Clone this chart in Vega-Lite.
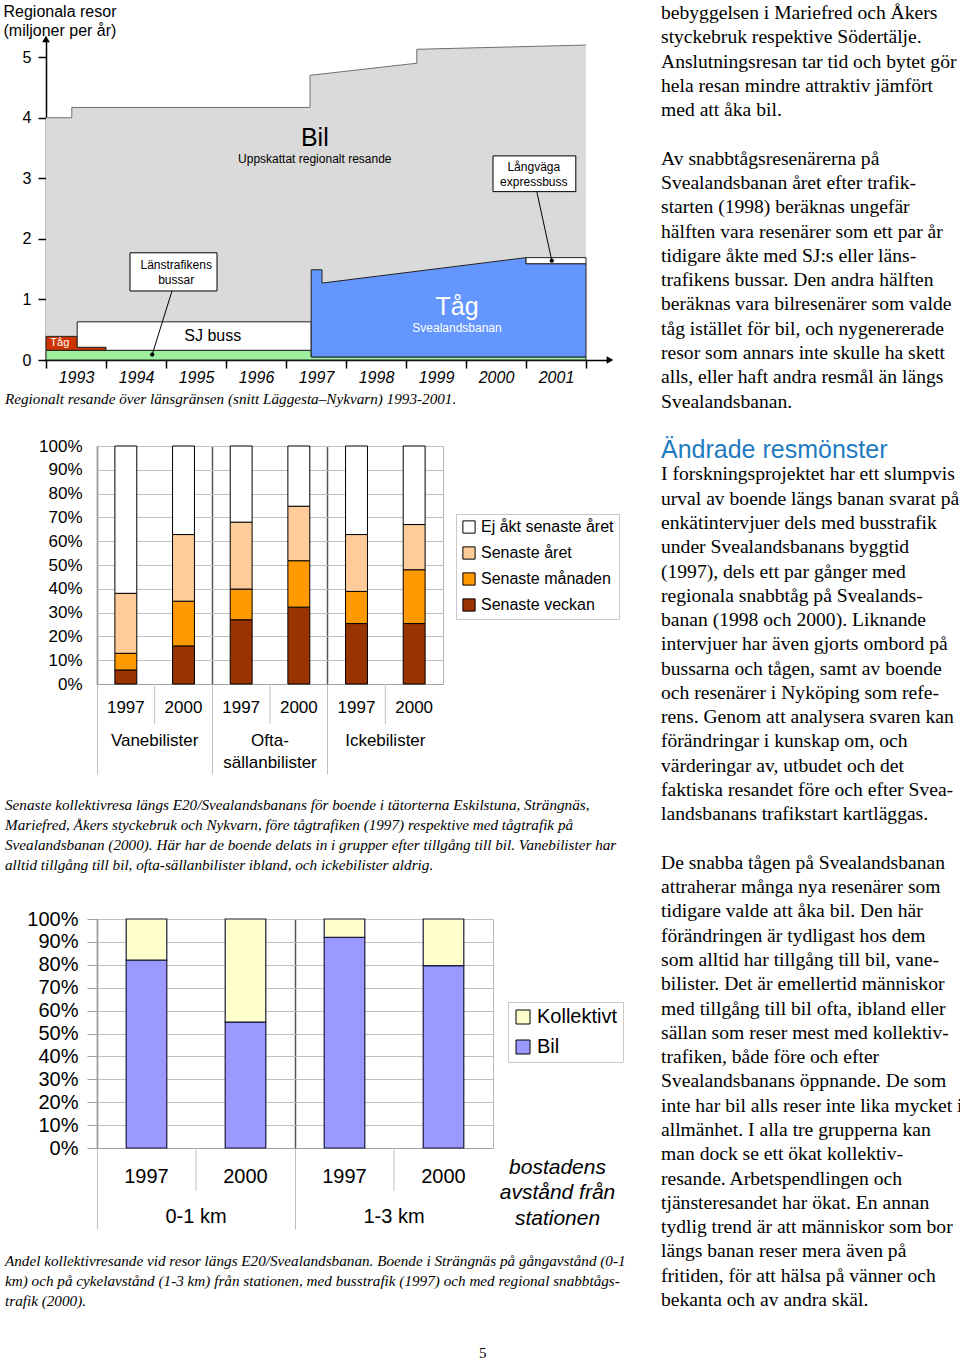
{
  "$schema": "https://vega.github.io/schema/vega-lite/v6.json",
  "background": "white",
  "padding": {"left": 3, "top": 2, "right": 0, "bottom": 0},
  "config": {
    "font": "Liberation Sans",
    "view": {"stroke": null},
    "axis": {"labelColor": "black", "titleColor": "black", "labelFont": "Liberation Sans", "titleFont": "Liberation Sans", "titleFontWeight": "normal"},
    "legend": {"labelColor": "black", "labelFont": "Liberation Sans"},
    "title": {"color": "black", "fontWeight": "normal"}
  },
  "title": {"text": "5", "orient": "bottom", "anchor": "middle", "font": "Liberation Serif", "fontSize": 15, "offset": 36},
  "spacing": 0,
  "resolve": {"scale": {"color": "independent", "shape": "independent", "xOffset": "independent"}},
  "hconcat": [
    {
      "spacing": 28,
      "resolve": {"scale": {"color": "independent", "shape": "independent", "xOffset": "independent"}},
      "vconcat": [
        {
          "width": 513,
          "height": 321,
          "title": {"text": "Regionalt resande över länsgränsen (snitt Läggesta–Nykvarn) 1993-2001.", "orient": "bottom", "anchor": "start", "frame": "group", "dx": -92, "offset": 7, "font": "Liberation Serif", "fontStyle": "italic", "fontSize": 15.2},
          "layer": [
            {
              "data": {"values": [
                {"x": 1993, "y": 4.0}, {"x": 1993.43, "y": 4.0}, {"x": 1993.43, "y": 4.17},
                {"x": 1997.4, "y": 4.17}, {"x": 1997.4, "y": 4.7}, {"x": 1999.18, "y": 4.9},
                {"x": 1999.18, "y": 5.13}, {"x": 2002, "y": 5.2}
              ]},
              "mark": {"type": "area", "color": "#dadada", "opacity": 1, "line": {"color": "#707070", "strokeWidth": 1}},
              "encoding": {
                "x": {"field": "x", "type": "quantitative", "scale": {"domain": [1993, 2002.4], "range": [-51, 513], "nice": false, "zero": false},
                  "axis": {"title": null, "values": [1993, 1994, 1995, 1996, 1997, 1998, 1999, 2000, 2001, 2002], "format": "d", "labelExpr": "datum.value >= 2002 ? '' : datum.label", "labelOffset": 30, "labelFontStyle": "italic", "labelFontSize": 16, "tickSize": 8, "tickColor": "black", "tickWidth": 1.5, "domainColor": "black", "domainWidth": 1.5, "labelPadding": 1, "grid": false, "labelFlush": false, "labelOverlap": false}},
                "y": {"field": "y", "type": "quantitative", "scale": {"domain": [0, 5.3], "nice": false, "zero": false},
                  "axis": {"offset": 51, "title": ["Regionala resor", "(miljoner per år)"], "titleAngle": 0, "titleAlign": "left", "titleBaseline": "top", "titleX": -43, "titleY": -36, "titleFontSize": 16, "titleLineHeight": 19, "values": [0, 0.5, 1, 1.5, 2, 2.5, 3, 3.5, 4, 4.5, 5], "labelExpr": "datum.value % 1 === 0 ? format(datum.value, 'd') : ''", "labelFontSize": 16, "tickSize": 8, "tickColor": "black", "tickWidth": 1.5, "domainColor": "black", "domainWidth": 1.5, "labelPadding": 7, "grid": false, "labelFlush": false, "labelOverlap": false}},
                "y2": {"datum": 0}
              }
            },
            {
              "data": {"values": [
                {"s": "Länstrafik", "x": 1993, "y0": 0, "y": 0.16},
                {"s": "Länstrafik", "x": 1997.42, "y0": 0, "y": 0.16},
                {"s": "Länstrafik", "x": 1997.42, "y0": 0, "y": 0.05},
                {"s": "Länstrafik", "x": 2002, "y0": 0, "y": 0.05},
                {"s": "Tåg", "x": 1993, "y0": 0.16, "y": 0.39},
                {"s": "Tåg", "x": 1993.52, "y0": 0.16, "y": 0.39},
                {"s": "Tåg", "x": 1993.52, "y0": 0.16, "y": 0.21},
                {"s": "Tåg", "x": 1994, "y0": 0.16, "y": 0.21},
                {"s": "SJ buss", "x": 1993.52, "y0": 0.21, "y": 0.63},
                {"s": "SJ buss", "x": 1994, "y0": 0.21, "y": 0.63},
                {"s": "SJ buss", "x": 1994, "y0": 0.16, "y": 0.63},
                {"s": "SJ buss", "x": 1997.42, "y0": 0.16, "y": 0.63},
                {"s": "Svealandsbanan", "x": 1997.42, "y0": 0.05, "y": 1.49},
                {"s": "Svealandsbanan", "x": 1997.6, "y0": 0.05, "y": 1.49},
                {"s": "Svealandsbanan", "x": 1997.6, "y0": 0.05, "y": 1.27},
                {"s": "Svealandsbanan", "x": 2001, "y0": 0.05, "y": 1.69},
                {"s": "Svealandsbanan", "x": 2001, "y0": 0.05, "y": 1.59},
                {"s": "Svealandsbanan", "x": 2002, "y0": 0.05, "y": 1.59},
                {"s": "Långväga", "x": 2001, "y0": 1.59, "y": 1.69},
                {"s": "Långväga", "x": 2002, "y0": 1.59, "y": 1.69}
              ]},
              "mark": {"type": "area", "stroke": "#222222", "strokeWidth": 1, "opacity": 1},
              "encoding": {
                "x": {"field": "x", "type": "quantitative"},
                "y": {"field": "y", "type": "quantitative"},
                "y2": {"field": "y0"},
                "color": {"field": "s", "type": "nominal", "scale": {"domain": ["Länstrafik", "Tåg", "SJ buss", "Svealandsbanan", "Långväga"], "range": ["#9ef09e", "#cc3300", "#ffffff", "#6496ff", "#ffffff"]}, "legend": null}
              }
            },
            {
              "data": {"values": [
                {"x": 1994.4, "xe": 1995.85, "y": 1.14, "ye": 1.77},
                {"x": 2000.45, "xe": 2001.83, "y": 2.78, "ye": 3.37}
              ]},
              "mark": {"type": "rect", "fill": "white", "stroke": "black", "strokeWidth": 1},
              "encoding": {
                "x": {"field": "x", "type": "quantitative"},
                "x2": {"field": "xe"},
                "y": {"field": "y", "type": "quantitative"},
                "y2": {"field": "ye"}
              }
            },
            {
              "data": {"values": [
                {"x": 1995.1, "y": 1.14, "xe": 1994.77, "ye": 0.09},
                {"x": 2001.18, "y": 2.78, "xe": 2001.43, "ye": 1.64}
              ]},
              "mark": {"type": "rule", "color": "black", "strokeWidth": 1},
              "encoding": {
                "x": {"field": "x", "type": "quantitative"},
                "x2": {"field": "xe"},
                "y": {"field": "y", "type": "quantitative"},
                "y2": {"field": "ye"}
              }
            },
            {
              "data": {"values": [
                {"x": 1994.77, "y": 0.09},
                {"x": 2001.43, "y": 1.64}
              ]},
              "mark": {"type": "point", "filled": true, "color": "black", "size": 18, "opacity": 1},
              "encoding": {
                "x": {"field": "x", "type": "quantitative"},
                "y": {"field": "y", "type": "quantitative"}
              }
            },
            {
              "data": {"values": [
                {"x": 1993, "y": 5.3, "d": "upp"},
                {"x": 2002.4, "y": 0, "d": "höger"}
              ]},
              "mark": {"type": "point", "filled": true, "color": "black", "size": 60, "opacity": 1},
              "encoding": {
                "x": {"field": "x", "type": "quantitative"},
                "y": {"field": "y", "type": "quantitative"},
                "shape": {"field": "d", "type": "nominal", "scale": {"domain": ["upp", "höger"], "range": ["triangle-up", "triangle-right"]}, "legend": null}
              }
            },
            {
              "data": {"values": [
                {"x": 1997.48, "y": 3.32, "t": "Uppskattat regionalt resande"},
                {"x": 1995.17, "y": 1.57, "t": "Länstrafikens"},
                {"x": 1995.17, "y": 1.32, "t": "bussar"},
                {"x": 2001.13, "y": 3.19, "t": "Långväga"},
                {"x": 2001.13, "y": 2.94, "t": "expressbuss"}
              ]},
              "mark": {"type": "text", "fontSize": 12, "color": "black", "align": "center", "baseline": "middle"},
              "encoding": {
                "x": {"field": "x", "type": "quantitative"},
                "y": {"field": "y", "type": "quantitative"},
                "text": {"field": "t"}
              }
            },
            {
              "data": {"values": [{"x": 1997.48, "y": 3.67, "t": "Bil"}]},
              "mark": {"type": "text", "fontSize": 25, "color": "black", "align": "center", "baseline": "middle"},
              "encoding": {
                "x": {"field": "x", "type": "quantitative"},
                "y": {"field": "y", "type": "quantitative"},
                "text": {"field": "t"}
              }
            },
            {
              "data": {"values": [{"x": 1999.85, "y": 0.88, "t": "Tåg"}]},
              "mark": {"type": "text", "fontSize": 25, "color": "white", "align": "center", "baseline": "middle"},
              "encoding": {
                "x": {"field": "x", "type": "quantitative"},
                "y": {"field": "y", "type": "quantitative"},
                "text": {"field": "t"}
              }
            },
            {
              "data": {"values": [{"x": 1999.85, "y": 0.53, "t": "Svealandsbanan"}]},
              "mark": {"type": "text", "fontSize": 12, "color": "white", "align": "center", "baseline": "middle"},
              "encoding": {
                "x": {"field": "x", "type": "quantitative"},
                "y": {"field": "y", "type": "quantitative"},
                "text": {"field": "t"}
              }
            },
            {
              "data": {"values": [{"x": 1995.78, "y": 0.4, "t": "SJ buss"}]},
              "mark": {"type": "text", "fontSize": 16, "color": "black", "align": "center", "baseline": "middle"},
              "encoding": {
                "x": {"field": "x", "type": "quantitative"},
                "y": {"field": "y", "type": "quantitative"},
                "text": {"field": "t"}
              }
            },
            {
              "data": {"values": [{"x": 1993.23, "y": 0.28, "t": "Tåg"}]},
              "mark": {"type": "text", "fontSize": 11, "color": "white", "align": "center", "baseline": "middle"},
              "encoding": {
                "x": {"field": "x", "type": "quantitative"},
                "y": {"field": "y", "type": "quantitative"},
                "text": {"field": "t"}
              }
            }
          ]
        },
        {
          "spacing": 34,
          "resolve": {"scale": {"color": "independent", "shape": "independent", "xOffset": "independent"}},
          "vconcat": [
            {
              "width": 346,
              "height": 238,
              "view": {"stroke": "#b4b4b4"},
              "title": {"text": [
                "Senaste kollektivresa längs E20/Svealandsbanans för boende i tätorterna Eskilstuna, Strängnäs,",
                "Mariefred, Åkers styckebruk och Nykvarn, före tågtrafiken (1997) respektive med tågtrafik på",
                "Svealandsbanan (2000). Här har de boende delats in i grupper efter tillgång till bil. Vanebilister har",
                "alltid tillgång till bil, ofta-sällanbilister ibland, och ickebilister aldrig."
              ], "orient": "bottom", "anchor": "start", "frame": "group", "dx": -92, "offset": 23, "font": "Liberation Serif", "fontStyle": "italic", "fontSize": 15.2, "lineHeight": 20},
              "layer": [
                {
                  "data": {"values": [
                    {"grupp": "Vanebilister", "år": "1997", "typ": "Senaste veckan", "lvl": 1, "andel": 5.9},
                    {"grupp": "Vanebilister", "år": "1997", "typ": "Senaste månaden", "lvl": 2, "andel": 7.0},
                    {"grupp": "Vanebilister", "år": "1997", "typ": "Senaste året", "lvl": 3, "andel": 25.2},
                    {"grupp": "Vanebilister", "år": "1997", "typ": "Ej åkt senaste året", "lvl": 4, "andel": 61.9},
                    {"grupp": "Vanebilister", "år": "2000", "typ": "Senaste veckan", "lvl": 1, "andel": 16.0},
                    {"grupp": "Vanebilister", "år": "2000", "typ": "Senaste månaden", "lvl": 2, "andel": 18.8},
                    {"grupp": "Vanebilister", "år": "2000", "typ": "Senaste året", "lvl": 3, "andel": 28.0},
                    {"grupp": "Vanebilister", "år": "2000", "typ": "Ej åkt senaste året", "lvl": 4, "andel": 37.2},
                    {"grupp": "Ofta-sällanbilister", "år": "1997", "typ": "Senaste veckan", "lvl": 1, "andel": 27.0},
                    {"grupp": "Ofta-sällanbilister", "år": "1997", "typ": "Senaste månaden", "lvl": 2, "andel": 12.9},
                    {"grupp": "Ofta-sällanbilister", "år": "1997", "typ": "Senaste året", "lvl": 3, "andel": 28.1},
                    {"grupp": "Ofta-sällanbilister", "år": "1997", "typ": "Ej åkt senaste året", "lvl": 4, "andel": 32.0},
                    {"grupp": "Ofta-sällanbilister", "år": "2000", "typ": "Senaste veckan", "lvl": 1, "andel": 32.3},
                    {"grupp": "Ofta-sällanbilister", "år": "2000", "typ": "Senaste månaden", "lvl": 2, "andel": 19.5},
                    {"grupp": "Ofta-sällanbilister", "år": "2000", "typ": "Senaste året", "lvl": 3, "andel": 22.9},
                    {"grupp": "Ofta-sällanbilister", "år": "2000", "typ": "Ej åkt senaste året", "lvl": 4, "andel": 25.3},
                    {"grupp": "Ickebilister", "år": "1997", "typ": "Senaste veckan", "lvl": 1, "andel": 25.4},
                    {"grupp": "Ickebilister", "år": "1997", "typ": "Senaste månaden", "lvl": 2, "andel": 13.5},
                    {"grupp": "Ickebilister", "år": "1997", "typ": "Senaste året", "lvl": 3, "andel": 23.9},
                    {"grupp": "Ickebilister", "år": "1997", "typ": "Ej åkt senaste året", "lvl": 4, "andel": 37.2},
                    {"grupp": "Ickebilister", "år": "2000", "typ": "Senaste veckan", "lvl": 1, "andel": 25.4},
                    {"grupp": "Ickebilister", "år": "2000", "typ": "Senaste månaden", "lvl": 2, "andel": 22.6},
                    {"grupp": "Ickebilister", "år": "2000", "typ": "Senaste året", "lvl": 3, "andel": 19.0},
                    {"grupp": "Ickebilister", "år": "2000", "typ": "Ej åkt senaste året", "lvl": 4, "andel": 33.0}
                  ]},
                  "mark": {"type": "bar", "stroke": "black", "strokeWidth": 1},
                  "encoding": {
                    "x": {"field": "grupp", "type": "nominal", "scale": {"domain": ["Vanebilister", "Ofta-sällanbilister", "Ickebilister"], "paddingInner": 0, "paddingOuter": 0},
                      "axis": {"title": null, "labels": false, "bandPosition": 0, "tickSize": 90, "tickColor": "#c0c0c0", "grid": true, "gridColor": "#555555", "gridWidth": 1.5, "domainColor": "#a0a0a0"}},
                    "xOffset": {"field": "år", "type": "nominal", "scale": {"domain": ["1997", "2000"], "paddingInner": 0.62, "paddingOuter": 0.31}},
                    "y": {"field": "andel", "type": "quantitative", "stack": "zero", "scale": {"domain": [0, 100], "nice": false},
                      "axis": {"title": null, "values": [0, 10, 20, 30, 40, 50, 60, 70, 80, 90, 100], "labelExpr": "datum.value + '%'", "labelFontSize": 17, "ticks": false, "labelPadding": 15, "grid": true, "gridColor": "#c0c0c0", "domainColor": "#a0a0a0", "labelOverlap": false, "labelFlush": false}},
                    "color": {"field": "typ", "type": "nominal",
                      "scale": {"domain": ["Ej åkt senaste året", "Senaste året", "Senaste månaden", "Senaste veckan"], "range": ["#ffffff", "#ffcc99", "#ff9900", "#993300"]},
                      "legend": {"orient": "none", "legendX": 359, "legendY": 68, "direction": "vertical", "title": null, "symbolType": "square", "symbolSize": 150, "symbolStrokeColor": "black", "symbolStrokeWidth": 1, "labelFontSize": 16, "labelOffset": 4, "rowPadding": 8, "padding": 5, "strokeColor": "#c8c8c8", "labelLimit": 300}},
                    "order": {"field": "lvl", "type": "quantitative"}
                  }
                },
                {
                  "data": {"values": [{"grupp": "Vanebilister"}, {"grupp": "Ofta-sällanbilister"}, {"grupp": "Ickebilister"}]},
                  "mark": {"type": "rule", "color": "#c0c0c0", "strokeWidth": 1},
                  "encoding": {
                    "x": {"field": "grupp", "type": "nominal"},
                    "y": {"datum": 0, "axis": {"title": null, "values": [0, 10, 20, 30, 40, 50, 60, 70, 80, 90, 100], "labelExpr": "datum.value + '%'", "labelFontSize": 17, "ticks": false, "labelPadding": 15, "grid": true, "gridColor": "#c0c0c0", "domainColor": "#a0a0a0", "labelOverlap": false, "labelFlush": false}},
                    "y2": {"datum": -16.8}
                  }
                },
                {
                  "data": {"values": [
                    {"grupp": "Vanebilister", "år": "1997"}, {"grupp": "Vanebilister", "år": "2000"},
                    {"grupp": "Ofta-sällanbilister", "år": "1997"}, {"grupp": "Ofta-sällanbilister", "år": "2000"},
                    {"grupp": "Ickebilister", "år": "1997"}, {"grupp": "Ickebilister", "år": "2000"}
                  ]},
                  "mark": {"type": "text", "fontSize": 17, "color": "black", "align": "center", "baseline": "middle"},
                  "encoding": {
                    "x": {"field": "grupp", "type": "nominal"},
                    "xOffset": {"field": "år", "type": "nominal"},
                    "y": {"datum": -10.1, "axis": {"title": null, "values": [0, 10, 20, 30, 40, 50, 60, 70, 80, 90, 100], "labelExpr": "datum.value + '%'", "labelFontSize": 17, "ticks": false, "labelPadding": 15, "grid": true, "gridColor": "#c0c0c0", "domainColor": "#a0a0a0", "labelOverlap": false, "labelFlush": false}},
                    "text": {"field": "år"}
                  }
                },
                {
                  "data": {"values": [
                    {"grupp": "Vanebilister", "namn": "Vanebilister"},
                    {"grupp": "Ofta-sällanbilister", "namn": "Ofta-\nsällanbilister"},
                    {"grupp": "Ickebilister", "namn": "Ickebilister"}
                  ]},
                  "mark": {"type": "text", "fontSize": 17, "color": "black", "align": "center", "baseline": "top", "lineBreak": "\n", "lineHeight": 22},
                  "encoding": {
                    "x": {"field": "grupp", "type": "nominal"},
                    "y": {"datum": -20.6, "axis": {"title": null, "values": [0, 10, 20, 30, 40, 50, 60, 70, 80, 90, 100], "labelExpr": "datum.value + '%'", "labelFontSize": 17, "ticks": false, "labelPadding": 15, "grid": true, "gridColor": "#c0c0c0", "domainColor": "#a0a0a0", "labelOverlap": false, "labelFlush": false}},
                    "text": {"field": "namn"}
                  }
                }
              ]
            },
            {
              "width": 396,
              "height": 229,
              "view": {"stroke": "#b4b4b4"},
              "title": {"text": [
                "Andel kollektivresande vid resor längs E20/Svealandsbanan. Boende i Strängnäs på gångavstånd (0-1",
                "km) och på cykelavstånd (1-3 km) från stationen, med busstrafik (1997) och med regional snabbtågs-",
                "trafik (2000)."
              ], "orient": "bottom", "anchor": "start", "frame": "group", "dx": -92, "offset": 24, "font": "Liberation Serif", "fontStyle": "italic", "fontSize": 15.2, "lineHeight": 20},
              "layer": [
                {
                  "data": {"values": [
                    {"grupp": "0-1 km", "år": "1997", "typ": "Bil", "lvl": 1, "andel": 82},
                    {"grupp": "0-1 km", "år": "1997", "typ": "Kollektivt", "lvl": 2, "andel": 18},
                    {"grupp": "0-1 km", "år": "2000", "typ": "Bil", "lvl": 1, "andel": 55},
                    {"grupp": "0-1 km", "år": "2000", "typ": "Kollektivt", "lvl": 2, "andel": 45},
                    {"grupp": "1-3 km", "år": "1997", "typ": "Bil", "lvl": 1, "andel": 92},
                    {"grupp": "1-3 km", "år": "1997", "typ": "Kollektivt", "lvl": 2, "andel": 8},
                    {"grupp": "1-3 km", "år": "2000", "typ": "Bil", "lvl": 1, "andel": 79.6},
                    {"grupp": "1-3 km", "år": "2000", "typ": "Kollektivt", "lvl": 2, "andel": 20.4}
                  ]},
                  "mark": {"type": "bar", "stroke": "#1a1a3a", "strokeWidth": 1.2},
                  "encoding": {
                    "x": {"field": "grupp", "type": "nominal", "scale": {"domain": ["0-1 km", "1-3 km"], "paddingInner": 0, "paddingOuter": 0},
                      "axis": {"title": ["bostadens", "avstånd från", "stationen"], "titleFontStyle": "italic", "titleFontSize": 21, "titleLineHeight": 25.5, "titleX": 460, "titleY": 8, "titleAlign": "center", "titleBaseline": "top", "titleAngle": 0, "labels": false, "bandPosition": 0, "tickSize": 81, "tickColor": "#c0c0c0", "grid": true, "gridColor": "#555555", "gridWidth": 1.5, "domainColor": "#a0a0a0"}},
                    "xOffset": {"field": "år", "type": "nominal", "scale": {"domain": ["1997", "2000"], "paddingInner": 0.59, "paddingOuter": 0.295}},
                    "y": {"field": "andel", "type": "quantitative", "stack": "zero", "scale": {"domain": [0, 100], "nice": false},
                      "axis": {"title": null, "values": [0, 10, 20, 30, 40, 50, 60, 70, 80, 90, 100], "labelExpr": "datum.value + '%'", "labelFontSize": 20, "tickSize": 10, "tickColor": "#a0a0a0", "labelPadding": 9, "grid": true, "gridColor": "#c0c0c0", "domainColor": "#a0a0a0", "labelOverlap": false, "labelFlush": false}},
                    "color": {"field": "typ", "type": "nominal",
                      "scale": {"domain": ["Kollektivt", "Bil"], "range": ["#ffffcc", "#9999ff"]},
                      "legend": {"orient": "none", "legendX": 411, "legendY": 83, "direction": "vertical", "title": null, "symbolType": "square", "symbolSize": 196, "symbolStrokeColor": "black", "symbolStrokeWidth": 1, "labelFontSize": 20, "labelOffset": 4, "rowPadding": 10, "padding": 5, "strokeColor": "#c8c8c8", "labelLimit": 300}},
                    "order": {"field": "lvl", "type": "quantitative"}
                  }
                },
                {
                  "data": {"values": [{"grupp": "0-1 km"}, {"grupp": "1-3 km"}]},
                  "mark": {"type": "rule", "color": "#c0c0c0", "strokeWidth": 1},
                  "encoding": {
                    "x": {"field": "grupp", "type": "nominal"},
                    "y": {"datum": 0, "axis": {"title": null, "values": [0, 10, 20, 30, 40, 50, 60, 70, 80, 90, 100], "labelExpr": "datum.value + '%'", "labelFontSize": 20, "tickSize": 10, "tickColor": "#a0a0a0", "labelPadding": 9, "grid": true, "gridColor": "#c0c0c0", "domainColor": "#a0a0a0", "labelOverlap": false, "labelFlush": false}},
                    "y2": {"datum": -18.8}
                  }
                },
                {
                  "data": {"values": [
                    {"grupp": "0-1 km", "år": "1997"}, {"grupp": "0-1 km", "år": "2000"},
                    {"grupp": "1-3 km", "år": "1997"}, {"grupp": "1-3 km", "år": "2000"}
                  ]},
                  "mark": {"type": "text", "fontSize": 20, "color": "black", "align": "center", "baseline": "middle"},
                  "encoding": {
                    "x": {"field": "grupp", "type": "nominal"},
                    "xOffset": {"field": "år", "type": "nominal"},
                    "y": {"datum": -12.7, "axis": {"title": null, "values": [0, 10, 20, 30, 40, 50, 60, 70, 80, 90, 100], "labelExpr": "datum.value + '%'", "labelFontSize": 20, "tickSize": 10, "tickColor": "#a0a0a0", "labelPadding": 9, "grid": true, "gridColor": "#c0c0c0", "domainColor": "#a0a0a0", "labelOverlap": false, "labelFlush": false}},
                    "text": {"field": "år"}
                  }
                },
                {
                  "data": {"values": [{"grupp": "0-1 km"}, {"grupp": "1-3 km"}]},
                  "mark": {"type": "text", "fontSize": 20, "color": "black", "align": "center", "baseline": "middle"},
                  "encoding": {
                    "x": {"field": "grupp", "type": "nominal"},
                    "y": {"datum": -30.1, "axis": {"title": null, "values": [0, 10, 20, 30, 40, 50, 60, 70, 80, 90, 100], "labelExpr": "datum.value + '%'", "labelFontSize": 20, "tickSize": 10, "tickColor": "#a0a0a0", "labelPadding": 9, "grid": true, "gridColor": "#c0c0c0", "domainColor": "#a0a0a0", "labelOverlap": false, "labelFlush": false}},
                    "text": {"field": "grupp"}
                  }
                }
              ]
            }
          ]
        }
      ]
    },
    {
      "width": 300,
      "height": 1261,
      "layer": [
        {
          "data": {"values": [
            {"rad": 0, "text": "bebyggelsen i Mariefred och Åkers"},
            {"rad": 1, "text": "styckebruk respektive Södertälje."},
            {"rad": 2, "text": "Anslutningsresan tar tid och bytet gör"},
            {"rad": 3, "text": "hela resan mindre attraktiv jämfört"},
            {"rad": 4, "text": "med att åka bil."},
            {"rad": 6, "text": "Av snabbtågsresenärerna på"},
            {"rad": 7, "text": "Svealandsbanan året efter trafik-"},
            {"rad": 8, "text": "starten (1998) beräknas ungefär"},
            {"rad": 9, "text": "hälften vara resenärer som ett par år"},
            {"rad": 10, "text": "tidigare åkte med SJ:s eller läns-"},
            {"rad": 11, "text": "trafikens bussar. Den andra hälften"},
            {"rad": 12, "text": "beräknas vara bilresenärer som valde"},
            {"rad": 13, "text": "tåg istället för bil, och nygenererade"},
            {"rad": 14, "text": "resor som annars inte skulle ha skett"},
            {"rad": 15, "text": "alls, eller haft andra resmål än längs"},
            {"rad": 16, "text": "Svealandsbanan."},
            {"rad": 19, "text": "I forskningsprojektet har ett slumpvis"},
            {"rad": 20, "text": "urval av boende längs banan svarat på"},
            {"rad": 21, "text": "enkätintervjuer dels med busstrafik"},
            {"rad": 22, "text": "under Svealandsbanans byggtid"},
            {"rad": 23, "text": "(1997), dels ett par gånger med"},
            {"rad": 24, "text": "regionala snabbtåg på Svealands-"},
            {"rad": 25, "text": "banan (1998 och 2000). Liknande"},
            {"rad": 26, "text": "intervjuer har även gjorts ombord på"},
            {"rad": 27, "text": "bussarna och tågen, samt av boende"},
            {"rad": 28, "text": "och resenärer i Nyköping som refe-"},
            {"rad": 29, "text": "rens. Genom att analysera svaren kan"},
            {"rad": 30, "text": "förändringar i kunskap om, och"},
            {"rad": 31, "text": "värderingar av, utbudet och det"},
            {"rad": 32, "text": "faktiska resandet före och efter Svea-"},
            {"rad": 33, "text": "landsbanans trafikstart kartläggas."},
            {"rad": 35, "text": "De snabba tågen på Svealandsbanan"},
            {"rad": 36, "text": "attraherar många nya resenärer som"},
            {"rad": 37, "text": "tidigare valde att åka bil. Den här"},
            {"rad": 38, "text": "förändringen är tydligast hos dem"},
            {"rad": 39, "text": "som alltid har tillgång till bil, vane-"},
            {"rad": 40, "text": "bilister. Det är emellertid människor"},
            {"rad": 41, "text": "med tillgång till bil ofta, ibland eller"},
            {"rad": 42, "text": "sällan som reser mest med kollektiv-"},
            {"rad": 43, "text": "trafiken, både före och efter"},
            {"rad": 44, "text": "Svealandsbanans öppnande. De som"},
            {"rad": 45, "text": "inte har bil alls reser inte lika mycket i"},
            {"rad": 46, "text": "allmänhet. I alla tre grupperna kan"},
            {"rad": 47, "text": "man dock se ett ökat kollektiv-"},
            {"rad": 48, "text": "resande. Arbetspendlingen och"},
            {"rad": 49, "text": "tjänsteresandet har ökat. En annan"},
            {"rad": 50, "text": "tydlig trend är att människor som bor"},
            {"rad": 51, "text": "längs banan reser mera även på"},
            {"rad": 52, "text": "fritiden, för att hälsa på vänner och"},
            {"rad": 53, "text": "bekanta och av andra skäl."}
          ]},
          "mark": {"type": "text", "align": "left", "baseline": "middle", "font": "Liberation Serif", "fontSize": 19.6, "color": "black"},
          "encoding": {
            "y": {"field": "rad", "type": "quantitative", "scale": {"domain": [1.071, 53], "reverse": true, "nice": false, "zero": false}, "axis": null},
            "x": {"datum": 0, "type": "quantitative", "scale": {"domain": [0, 1]}, "axis": null},
            "text": {"field": "text"}
          }
        },
        {
          "data": {"values": [{"rad": 18, "text": "Ändrade resmönster"}]},
          "mark": {"type": "text", "align": "left", "baseline": "middle", "font": "Liberation Sans", "fontSize": 25, "color": "#1e7bc0"},
          "encoding": {
            "y": {"field": "rad", "type": "quantitative"},
            "x": {"datum": 0, "type": "quantitative"},
            "text": {"field": "text"}
          }
        }
      ]
    }
  ]
}
